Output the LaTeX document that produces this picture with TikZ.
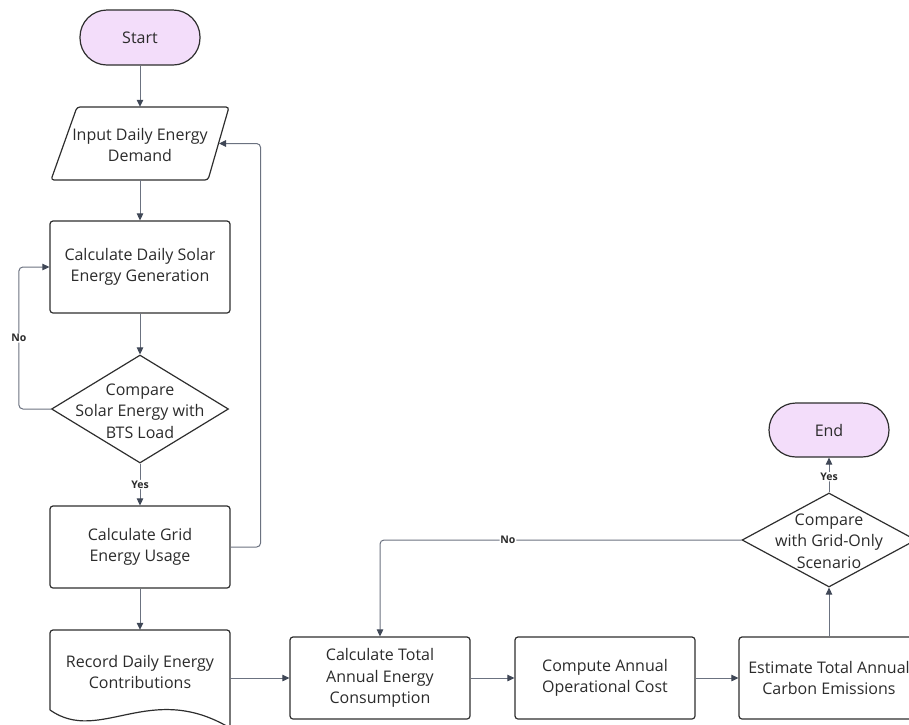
\documentclass[tikz,border=0pt]{standalone}
\usepackage{fontspec}
\setmainfont{Open Sans}
\usetikzlibrary{arrows.meta,shapes.geometric}
\definecolor{conn}{HTML}{6B7280}
\definecolor{tipc}{HTML}{3F4756}
\definecolor{edgec}{HTML}{2E2E2E}
\definecolor{txtc}{HTML}{2B2B2B}
\definecolor{lilac}{HTML}{F3DDFA}
\begin{document}
\begin{tikzpicture}[x=1pt,y=-1pt,
  txt/.style={align=center, text=txtc, font=\fontsize{16}{21.5}\selectfont},
  box/.style={txt, draw=edgec, line width=1.2pt, rounded corners=3pt, minimum width=180pt, minimum height=82pt},
  term/.style={txt, draw=edgec, line width=1.2pt, fill=lilac, rounded corners=27pt, minimum width=120pt, minimum height=55pt},
  dec/.style={diamond, draw=edgec, line width=1.2pt, inner sep=0pt},
  ghost/.style={draw=none, minimum width=180pt, inner sep=0pt},
  shp/.style={draw=edgec, line width=1.2pt, line join=round},
  conn/.style={draw=conn, line width=1pt, rounded corners=4pt, -{Triangle[length=7pt,width=6.5pt,color=tipc]}},
  lbl/.style={fill=white, inner sep=0.8pt, text=txtc, font=\fontsize{10.5}{11}\selectfont\bfseries}
]
\useasboundingbox (0,0) rectangle (909,724);
\clip (0,0) rectangle (909,724);

% Start
\node[term] (start) at (140,37.5) {Start};

% Input parallelogram
\node[ghost, minimum height=73pt] (inp) at (140,143.5) {};
\draw[shp, rounded corners=3pt] (77,107) -- (229,107) -- (208,180) -- (51,180) -- cycle;
\node[txt] at (140,145) {Input Daily Energy\\Demand};
\coordinate (inpR) at (219,143.5);

% Solar generation
\node[box, minimum height=92pt] (sol) at (140,267) {Calculate Daily Solar\\Energy Generation};

% Decision 1
\node[dec, minimum width=177pt, minimum height=108pt] (d1) at (140,409) {};
\node[txt] at (140,411) {Compare\\Solar Energy with\\BTS Load};

% Grid
\node[box] (grid) at (140,547) {Calculate Grid\\Energy Usage};

% Record (document)
\node[ghost, minimum height=80pt] (rec) at (140,670) {};
\draw[shp, rounded corners=3pt] (50,710) -- (50,630) -- (230,630) -- (230,728);
\draw[shp] (50,710) .. controls (100,745) and (150,680) .. (230,728);
\node[txt] at (140,672) {Record Daily Energy\\Contributions};

% Bottom row
\node[box] (tot) at (380,678) {Calculate Total\\Annual Energy\\Consumption};
\node[box] (cmp) at (605,678) {Compute Annual\\Operational Cost};
\node[box] (est) at (829,678) {Estimate Total Annual\\Carbon Emissions};

% Decision 2
\node[dec, minimum width=174pt, minimum height=94pt] (d2) at (829,540) {};
\node[txt] at (829,541) {Compare\\with Grid-Only\\Scenario};

% End
\node[term, minimum height=54pt] (end) at (829,430) {End};

% Connectors
\draw[conn] (start) -- (inp);
\draw[conn] (inp.south) -- (sol);
\draw[conn] (sol) -- (d1);
\draw[conn] (d1.west) -- ++(-32,0) |- (sol.west) node[lbl, pos=0.25] {No};
\draw[conn] (d1) -- (grid) node[lbl, pos=0.5] {Yes};
\draw[conn] (grid.east) -- ++(30,0) |- (inpR);
\draw[conn] (grid) -- (rec);
\draw[conn] (rec.east |- tot.west) -- (tot);
\draw[conn] (tot) -- (cmp);
\draw[conn] (cmp) -- (est);
\draw[conn] (est) -- (d2);
\draw[conn] (d2) -- (end) node[lbl, pos=0.45] {Yes};
\draw[conn] (d2.west) -| (tot.north) node[lbl, pos=0.323] {No};
\end{tikzpicture}
\end{document}
